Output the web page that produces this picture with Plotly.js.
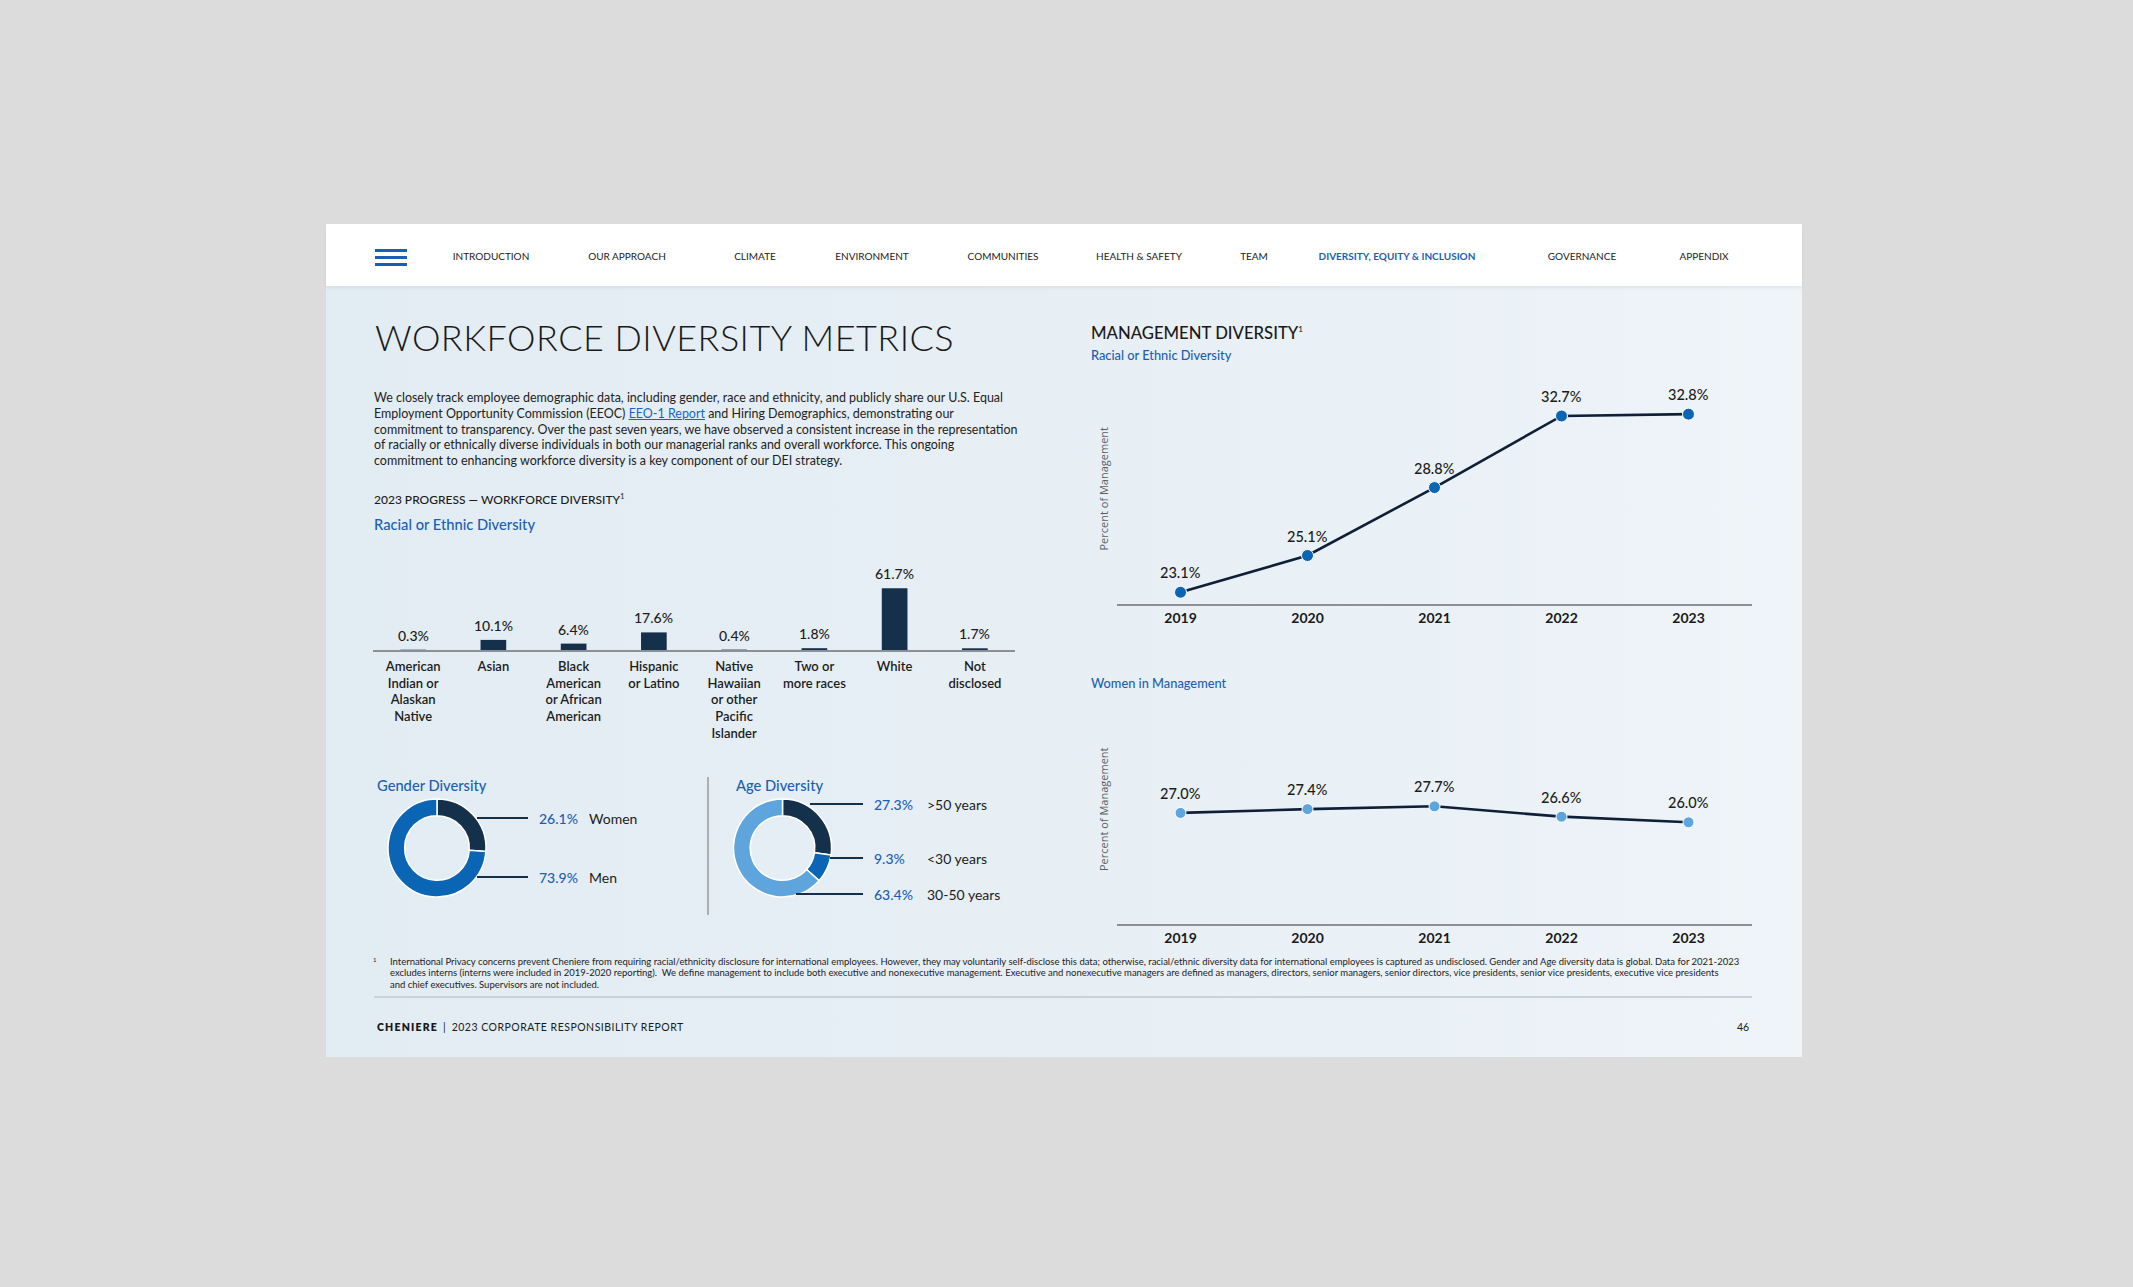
<!DOCTYPE html>
<html><head><meta charset="utf-8">
<script src="https://cdn.plot.ly/plotly-3.0.1.min.js"></script>
<style>
html,body{margin:0;padding:0;}
body{width:2133px;height:1287px;background:#dcdcdc;position:relative;overflow:hidden;font-family:Lato,"Open Sans",sans-serif;color:#1c1c1c;}
#page{position:absolute;left:326px;top:224px;width:1476px;height:833px;background:linear-gradient(90deg,#e2ecf3 0%,#e7eff5 50%,#eef4f8 100%);}
#nav{position:absolute;left:326px;top:224px;width:1476px;height:62px;background:#ffffff;box-shadow:0 2px 3px rgba(0,0,0,0.06);}
.abs{position:absolute;white-space:nowrap;}
.navi{position:absolute;top:256px;transform:translate(-50%,-50%);font-size:10px;color:#222;white-space:nowrap;line-height:12px;}
.bar{position:absolute;left:375px;width:32px;height:2.6px;background:#1a5fb4;}
.blue{color:#1a5fb4;}
.plot{position:absolute;}
</style>
</head><body>
<div id="page"></div>
<div id="nav"></div>
<div class="bar" style="top:249px"></div>
<div class="bar" style="top:256px"></div>
<div class="bar" style="top:263px"></div>
<div id="navitems"></div>

<div class="abs" id="title" style="left:375px;top:317px;font-size:36px;font-weight:300;line-height:40px;color:#1a1a1a;">WORKFORCE DIVERSITY METRICS</div>

<div class="abs" id="para" style="left:374px;top:390px;font-size:12px;line-height:15.8px;color:#222;">
<span id="pl1">We closely track employee demographic data, including gender, race and ethnicity, and publicly share our U.S. Equal</span><br>
<span>Employment Opportunity Commission (EEOC) <span style="color:#1565c0;text-decoration:underline;">EEO-1 Report</span> and Hiring Demographics, demonstrating our</span><br>
<span id="pl3">commitment to transparency. Over the past seven years, we have observed a consistent increase in the representation</span><br>
<span>of racially or ethnically diverse individuals in both our managerial ranks and overall workforce. This ongoing</span><br>
<span>commitment to enhancing workforce diversity is a key component of our DEI strategy.</span>
</div>

<div class="abs" id="prog" style="left:374px;top:488px;font-size:12px;line-height:16px;font-weight:500;color:#1c1c1c;">2023 PROGRESS — WORKFORCE DIVERSITY<sup style="font-size:7px;">1</sup></div>
<div class="abs blue" style="left:374px;top:515px;font-size:14.7px;line-height:18px;font-weight:500;">Racial or Ethnic Diversity</div>

<div class="abs blue" style="left:377px;top:776px;font-size:14.7px;line-height:18px;font-weight:500;">Gender Diversity</div>
<div class="abs blue" style="left:736px;top:776px;font-size:14.7px;line-height:18px;font-weight:500;">Age Diversity</div>
<div class="abs" style="left:707px;top:777px;width:2px;height:138px;background:#a9afb3;"></div>

<div class="abs" style="left:1091px;top:319px;font-size:16.7px;line-height:20px;font-weight:500;color:#1a1a1a;">MANAGEMENT DIVERSITY<sup style="font-size:8px;">1</sup></div>
<div class="abs blue" style="left:1091px;top:347px;font-size:12.8px;line-height:16px;font-weight:500;">Racial or Ethnic Diversity</div>
<div class="abs blue" style="left:1091px;top:675px;font-size:12.8px;line-height:16px;font-weight:500;">Women in Management</div>

<div id="bars" class="plot" style="left:330px;top:540px;width:720px;height:240px;"></div>
<div id="gender" class="plot" style="left:370px;top:770px;width:300px;height:140px;"></div>
<div id="age" class="plot" style="left:720px;top:770px;width:330px;height:140px;"></div>
<div id="mgmt" class="plot" style="left:1080px;top:360px;width:700px;height:280px;"></div>
<div id="women" class="plot" style="left:1080px;top:680px;width:700px;height:280px;"></div>

<div class="abs" style="left:373px;top:956px;font-size:6px;line-height:8px;color:#222;">1</div>
<div class="abs" id="foot" style="left:390px;top:956px;font-size:9.5px;line-height:11.3px;color:#222;">
<span id="fl1">International Privacy concerns prevent Cheniere from requiring racial/ethnicity disclosure for international employees. However, they may voluntarily self-disclose this data; otherwise, racial/ethnic diversity data for international employees is captured as undisclosed. Gender and Age diversity data is global. Data for 2021-2023</span><br>
<span>excludes interns (interns were included in 2019-2020 reporting).&nbsp; We define management to include both executive and nonexecutive management. Executive and nonexecutive managers are defined as managers, directors, senior managers, senior directors, vice presidents, senior vice presidents, executive vice presidents</span><br>
<span>and chief executives. Supervisors are not included.</span>
</div>
<div class="abs" style="left:374px;top:996px;width:1378px;height:1.5px;background:#c9d2d8;"></div>

<div class="abs" style="left:377px;top:1020px;font-size:10.5px;line-height:14px;color:#1a1a1a;"><span id="chen" style="font-weight:800;letter-spacing:1.2px;">CHENIERE</span><span style="margin:0 6px 0 5px;">|</span><span id="rep">2023 CORPORATE RESPONSIBILITY REPORT</span></div>
<div class="abs" style="left:1737px;top:1020px;font-size:10.5px;line-height:14px;color:#1a1a1a;">46</div>

<script>
// ---------- DATA ----------
const navLabels = ['INTRODUCTION','OUR APPROACH','CLIMATE','ENVIRONMENT','COMMUNITIES','HEALTH & SAFETY','TEAM','DIVERSITY, EQUITY & INCLUSION','GOVERNANCE','APPENDIX'];
const raceCategories = ['American<br>Indian or<br>Alaskan<br>Native','Asian','Black<br>American<br>or African<br>American','Hispanic<br>or Latino','Native<br>Hawaiian<br>or other<br>Pacific<br>Islander','Two or<br>more races','White','Not<br>disclosed'];
const raceValues = [0.3, 10.1, 6.4, 17.6, 0.4, 1.8, 61.7, 1.7];
const genderLabels = ['Women','Men'];
const genderValues = [26.1, 73.9];
const ageLabels = ['>50 years','<30 years','30-50 years'];
const ageValues = [27.3, 9.3, 63.4];
const years = ['2019','2020','2021','2022','2023'];
const mgmtRacialValues = [23.1, 25.1, 28.8, 32.7, 32.8];
const womenMgmtValues = [27.0, 27.4, 27.7, 26.6, 26.0];

// ---------- STYLE ----------
const NAVY = '#14304b', BLUE = '#0a66b5', LIGHT = '#5ea5de', LBL = '#1a5fb4';
const FONT = 'Lato, "Open Sans", sans-serif';
const cfg = {staticPlot:true, displayModeBar:false, responsive:false};
const navX = [491,627,755,872,1003,1139,1254,1397,1582,1704];

// nav
const nav = document.getElementById('navitems');
navLabels.forEach((t,i)=>{
  const d = document.createElement('div');
  d.className = 'navi';
  d.style.left = navX[i]+'px';
  d.textContent = t;
  if (t.startsWith('DIVERSITY')) { d.style.color = '#1a5fb4'; d.style.fontWeight = '700'; }
  nav.appendChild(d);
});

// ---------- BAR CHART ----------
Plotly.newPlot('bars', [{
  type:'bar', x: raceCategories, y: raceValues,
  marker:{color:NAVY}, hoverinfo:'none', cliponaxis:false
}], {
  width:720, height:240, margin:{l:43, r:35, t:20, b:130},
  paper_bgcolor:'rgba(0,0,0,0)', plot_bgcolor:'rgba(0,0,0,0)',
  bargap:0.68, showlegend:false,
  font:{family:FONT, color:'#1c1c1c'},
  xaxis:{type:'category', showline:true, linecolor:'#8c9094', linewidth:2, showgrid:false, zeroline:false, ticks:'',
         ticklabelstandoff:3,
         tickfont:{size:13, family:FONT, color:'#1c1c1c', weight:600}, fixedrange:true},
  yaxis:{range:[0,90], visible:false, fixedrange:true},
  annotations: raceValues.map((v,i)=>({x:i, y:v, text:v.toFixed(1)+'%', showarrow:false,
     yanchor:'bottom', yshift:4, font:{size:14, family:FONT, color:'#1c1c1c', weight:500}}))
}, cfg);

// ---------- DONUTS ----------
function donut(id, divL, divT, W, H, cx, cy, r, labels, values, colors, legendItems) {
  const px = x => (x - divL)/W;
  const py = y => (divT + H - y)/H;
  const shapes = [], ann = [];
  legendItems.forEach((it,i)=>{
    shapes.push({type:'line', xref:'paper', yref:'paper', x0:px(it.x0), x1:px(it.x1), y0:py(it.y), y1:py(it.y), line:{color:NAVY, width:2}});
    ann.push({xref:'paper', yref:'paper', x:px(it.xp), y:py(it.y), xanchor:'left', yanchor:'middle', showarrow:false,
      text:values[i].toFixed(1)+'%', font:{size:14, family:FONT, color:LBL, weight:500}});
    ann.push({xref:'paper', yref:'paper', x:px(it.xl), y:py(it.y), xanchor:'left', yanchor:'middle', showarrow:false,
      text:labels[i], font:{size:14, family:FONT, color:'#1c1c1c', weight:400}});
  });
  Plotly.newPlot(id, [{
    type:'pie', labels:labels, values:values, hole:0.66, sort:false, direction:'clockwise', rotation:0,
    textinfo:'none', hoverinfo:'none', showlegend:false,
    marker:{colors:colors, line:{color:'#ffffff', width:1.5}},
    domain:{x:[px(cx-r), px(cx+r)], y:[py(cy+r), py(cy-r)]}
  }], {
    width:W, height:H, margin:{l:0,r:0,t:0,b:0},
    paper_bgcolor:'rgba(0,0,0,0)', showlegend:false, shapes:shapes, annotations:ann
  }, cfg);
}
donut('gender', 370, 770, 300, 140, 437, 848, 49, genderLabels, genderValues, [NAVY, BLUE], [
  {x0:477, x1:528, y:818, xp:537, xl:587},
  {x0:477, x1:528, y:877, xp:537, xl:587}
]);
donut('age', 720, 770, 330, 140, 782.5, 848, 49, ageLabels, ageValues, [NAVY, BLUE, LIGHT], [
  {x0:810, x1:863, y:804, xp:872, xl:925},
  {x0:830, x1:863, y:858, xp:872, xl:925},
  {x0:796, x1:863, y:894, xp:872, xl:925}
]);

// ---------- LINE CHARTS ----------
function lineChart(id, divT, vals, yr, markerColor, msize, plotTop, plotBot) {
  const H = 280;
  Plotly.newPlot(id, [{
    type:'scatter', mode:'lines+markers', x:years, y:vals, cliponaxis:false, hoverinfo:'none',
    line:{color:'#0f1f38', width:2.6},
    marker:{color:markerColor, size:msize, line:{color:'#ffffff', width:1}}
  }], {
    width:700, height:H, margin:{l:37, r:28, t:plotTop-divT, b:divT+H-plotBot},
    paper_bgcolor:'rgba(0,0,0,0)', plot_bgcolor:'rgba(0,0,0,0)', showlegend:false,
    font:{family:FONT, color:'#1c1c1c'},
    xaxis:{type:'category', range:[-0.5,4.5], showline:true, linecolor:'#8c9094', linewidth:2, showgrid:false, zeroline:false, ticks:'',
           tickfont:{size:14, family:FONT, color:'#1a1a1a', weight:700}, fixedrange:true},
    yaxis:{range:yr, showline:false, showgrid:false, zeroline:false, showticklabels:false, ticks:'', fixedrange:true},
    annotations: vals.map((v,i)=>({x:i, y:v, text:v.toFixed(1)+'%', showarrow:false, yanchor:'bottom', yshift:9,
        font:{size:14.5, family:FONT, color:'#1c1c1c', weight:500}})).concat([{
        xref:'paper', yref:'paper', x:(1103-1117)/635, y:0.5, xanchor:'center', yanchor:'middle', textangle:-90,
        showarrow:false, text:'Percent of Management', font:{size:11, family:'"Open Sans", sans-serif', color:'#5a5f63'}}])
  }, cfg);
}
lineChart('mgmt', 360, mgmtRacialValues, [22.46, 35.04], BLUE, 12, 373, 604);
lineChart('women', 680, womenMgmtValues, [15.18, 39.65], LIGHT, 11, 694, 924);

// ---------- text fitting ----------
function fitFS(el, lineEl, target){ const w = lineEl.getBoundingClientRect().width; const fs = parseFloat(getComputedStyle(el).fontSize); el.style.fontSize = (fs*target/w)+'px'; }
function fitLS(el, target){ el.style.letterSpacing='0px'; const w = el.getBoundingClientRect().width; const n = el.textContent.length; el.style.letterSpacing = ((target-w)/n)+'px'; }
document.fonts.ready.then(()=>{
  fitLS(document.getElementById('title'), 579);
  fitFS(document.getElementById('para'), document.getElementById('pl3'), 644);
  fitFS(document.getElementById('foot'), document.getElementById('fl1'), 1351);
  fitLS(document.getElementById('rep'), 232);
});
</script>
</body></html>
